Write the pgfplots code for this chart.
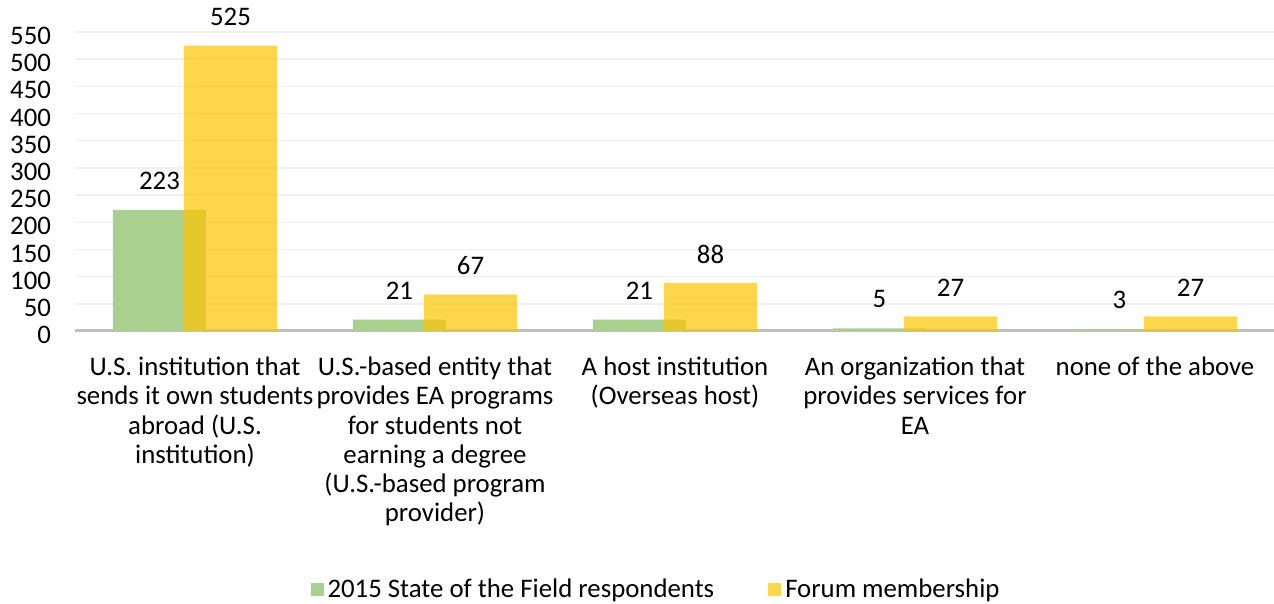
\documentclass[border=0pt]{standalone}
\usepackage{fontspec}
\setmainfont{Carlito}
\usepackage{pgfplots}
\pgfplotsset{compat=1.18}
\definecolor{sfgreen}{RGB}{169,208,142}
\definecolor{fmyellow}{RGB}{254,196,0}
\definecolor{gridc}{RGB}{240,240,240}
\definecolor{axisc}{RGB}{191,191,191}
\pgfplotsset{sq legend/.style={legend image code/.code={\fill[##1] (0pt,-3.25pt) rectangle (6.5pt,3.25pt);}}}
\newcommand{\lf}{\fontsize{13.4}{14.6}\selectfont}
\begin{document}
\begin{tikzpicture}
\begin{axis}[
  at={(37.5pt,136.5pt)}, anchor=south west,
  scale only axis, width=600pt, height=149.5pt,
  xmin=-0.5, xmax=4.5, ymin=0, ymax=550,
  ytick={0,50,...,550},
  xtick={0,1,2,3,4},
  xticklabels={
    {U.S. institution that\\sends it own students\\abroad (U.S.\\institution)},
    {U.S.-based entity that\\provides EA programs\\for students not\\earning a degree\\(U.S.-based program\\provider)},
    {A host institution\\(Overseas host)},
    {An organization that\\provides services for\\EA},
    {none of the above}},
  axis line style={draw=none},
  major tick length=0pt,
  ymajorgrids, grid style={gridc, line width=0.75pt},
  extra y ticks={0}, extra y tick labels={},
  extra y tick style={grid style={axisc, line width=1.5pt}},
  /pgf/number format/assume math mode=true,
  tick label style={font=\lf},
  yticklabel style={anchor=east, xshift=-8.5pt, yshift=-2pt},
  xticklabel style={anchor=north, align=center, yshift=-9.5pt},
  ybar, bar width=0.3875,
  nodes near coords,
  nodes near coords style={font=\lf, anchor=center, yshift=14.5pt, text=black},
  clip=false,
  legend style={at={(0.485,-0.865)}, anchor=center, draw=none, fill=none,
    legend columns=2, font=\lf,
    /tikz/every even column/.append style={column sep=25pt}},
]
\addplot[draw=none, fill=sfgreen, bar shift=-0.148, sq legend]
  coordinates {(0,223) (1,21) (2,21) (3,5) (4,3)};
\addplot[draw=none, fill=fmyellow, fill opacity=0.7, bar shift=0.148, sq legend,
  nodes near coords style={text opacity=1}]
  coordinates {(0,525) (1,67) (2,88) (3,27) (4,27)};
\legend{2015 State of the Field respondents, Forum membership}
\end{axis}
\pgfresetboundingbox
\useasboundingbox (0,0) rectangle (637pt,302pt);
\end{tikzpicture}
\end{document}
